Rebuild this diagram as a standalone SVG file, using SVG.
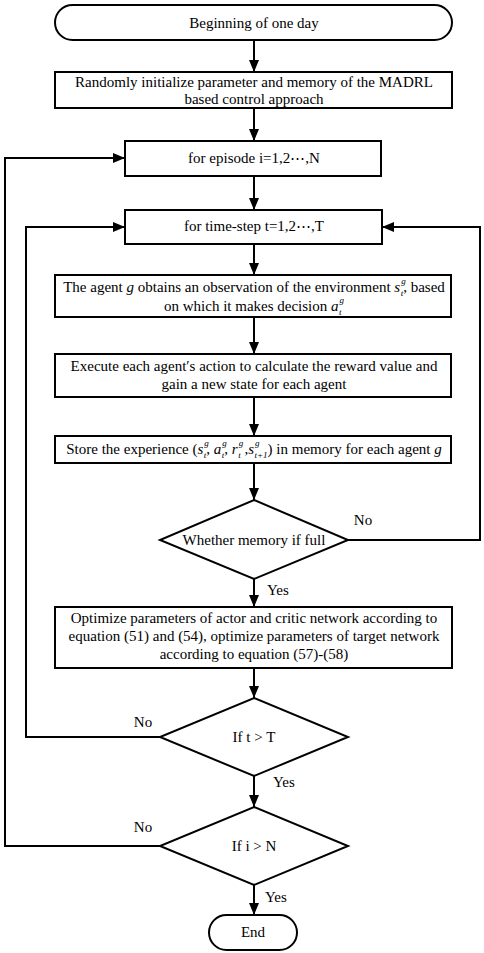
<svg xmlns="http://www.w3.org/2000/svg" width="484" height="953" viewBox="0 0 484 953">
<defs>
<marker id="ah" markerWidth="12" markerHeight="10" refX="12" refY="5" orient="auto" markerUnits="userSpaceOnUse">
<path d="M0,0 L12,5 L0,10 Z" fill="#000"/>
</marker>
<style>
.n{fill:#fff;stroke:#000;stroke-width:2}
.c{fill:none;stroke:#000;stroke-width:2;marker-end:url(#ah)}
text{font-family:"Liberation Serif","Times New Roman",serif;font-size:15px;fill:#000}
.m{text-anchor:middle}
.i{font-style:italic}
.s{font-size:9px;font-style:italic}
</style>
</defs>
<rect width="484" height="953" fill="#fff"/>
<g id="connectors">
<path class="c" d="M254,40 V72"/>
<path class="c" d="M254,108 V141"/>
<path class="c" d="M254,176 V210"/>
<path class="c" d="M254,244 V275"/>
<path class="c" d="M254,317 V354"/>
<path class="c" d="M254,397 V436"/>
<path class="c" d="M254,463 V500"/>
<path class="c" d="M254,579 V607"/>
<path class="c" d="M254,668 V698"/>
<path class="c" d="M254,776 V807"/>
<path class="c" d="M254,885 V915"/>
<path class="c" d="M348,540 H480 V227 H382"/>
<path class="c" d="M160,737 H26 V227 H125"/>
<path class="c" d="M160,846 H5 V158 H125"/>
<text x="363" y="525" class="m">No</text>
<text x="143" y="727" class="m">No</text>
<text x="143" y="832" class="m">No</text>
<text x="267" y="595">Yes</text>
<text x="273" y="787">Yes</text>
<text x="265" y="902">Yes</text>
</g>
<g id="start">
<rect class="n" x="55" y="5" width="397" height="35" rx="17.5"/>
<text x="254" y="28" class="m">Beginning of one day</text>
</g>
<g id="init">
<rect class="n" x="55" y="72" width="397" height="36"/>
<text x="254" y="87" class="m">Randomly initialize parameter and memory of the MADRL</text>
<text x="254" y="104" class="m">based control approach</text>
</g>
<g id="episode">
<rect class="n" x="125" y="141" width="256" height="35"/>
<text x="254" y="163" class="m">for episode i=1,2⋯,N</text>
</g>
<g id="timestep">
<rect class="n" x="125" y="210" width="257" height="34"/>
<text x="254" y="231" class="m">for time-step t=1,2⋯,T</text>
</g>
<g id="observe">
<rect class="n" x="55" y="275" width="396" height="42"/>
<text x="254" y="292" class="m">The agent <tspan class="i">g</tspan> obtains an observation of the environment <tspan class="i">s</tspan><tspan class="s" dx="1" dy="-8">g</tspan><tspan class="s" dx="-5" dy="12">t</tspan><tspan dy="-4">, based</tspan></text>
<text x="254" y="311" class="m">on which it makes decision <tspan class="i">a</tspan><tspan class="s" dx="1" dy="-8">g</tspan><tspan class="s" dx="-5" dy="12">t</tspan></text>
</g>
<g id="execute">
<rect class="n" x="55" y="354" width="396" height="43"/>
<text x="254" y="371" class="m">Execute each agent′s action to calculate the reward value and</text>
<text x="254" y="389" class="m">gain a new state for each agent</text>
</g>
<g id="store">
<rect class="n" x="55" y="436" width="396" height="27"/>
<text x="254" y="454" class="m">Store the experience (<tspan class="i">s</tspan><tspan class="s" dx="1" dy="-8">g</tspan><tspan class="s" dx="-5" dy="12">t</tspan><tspan dy="-4">, </tspan><tspan class="i">a</tspan><tspan class="s" dx="1" dy="-8">g</tspan><tspan class="s" dx="-5" dy="12">t</tspan><tspan dy="-4">,  </tspan><tspan class="i">r</tspan><tspan class="s" dx="1" dy="-8">g</tspan><tspan class="s" dx="-5" dy="12">t</tspan><tspan dy="-4"> ,</tspan><tspan class="i">s</tspan><tspan class="s" dx="1" dy="-8">g</tspan><tspan class="s" dx="-5" dy="12">t+1</tspan><tspan dy="-4">) in memory for each agent </tspan><tspan class="i">g</tspan></text>
</g>
<g id="memfull">
<polygon class="n" points="254,500 348,540 254,579 160,540"/>
<text x="254" y="545" class="m">Whether memory if full</text>
</g>
<g id="optimize">
<rect class="n" x="55" y="607" width="397" height="61"/>
<text x="254" y="623" class="m">Optimize parameters of actor and critic network according to</text>
<text x="254" y="641" class="m">equation (51) and (54), optimize parameters of  target network</text>
<text x="254" y="659" class="m">according to equation (57)-(58)</text>
</g>
<g id="checkT">
<polygon class="n" points="254,698 348,737 254,776 160,737"/>
<text x="254" y="742" class="m">If t &gt; T</text>
</g>
<g id="checkN">
<polygon class="n" points="254,807 348,846 254,885 160,846"/>
<text x="254" y="851" class="m">If i &gt; N</text>
</g>
<g id="end">
<rect class="n" x="209" y="915" width="88" height="35" rx="17.5"/>
<text x="253" y="937" class="m">End</text>
</g>
</svg>
